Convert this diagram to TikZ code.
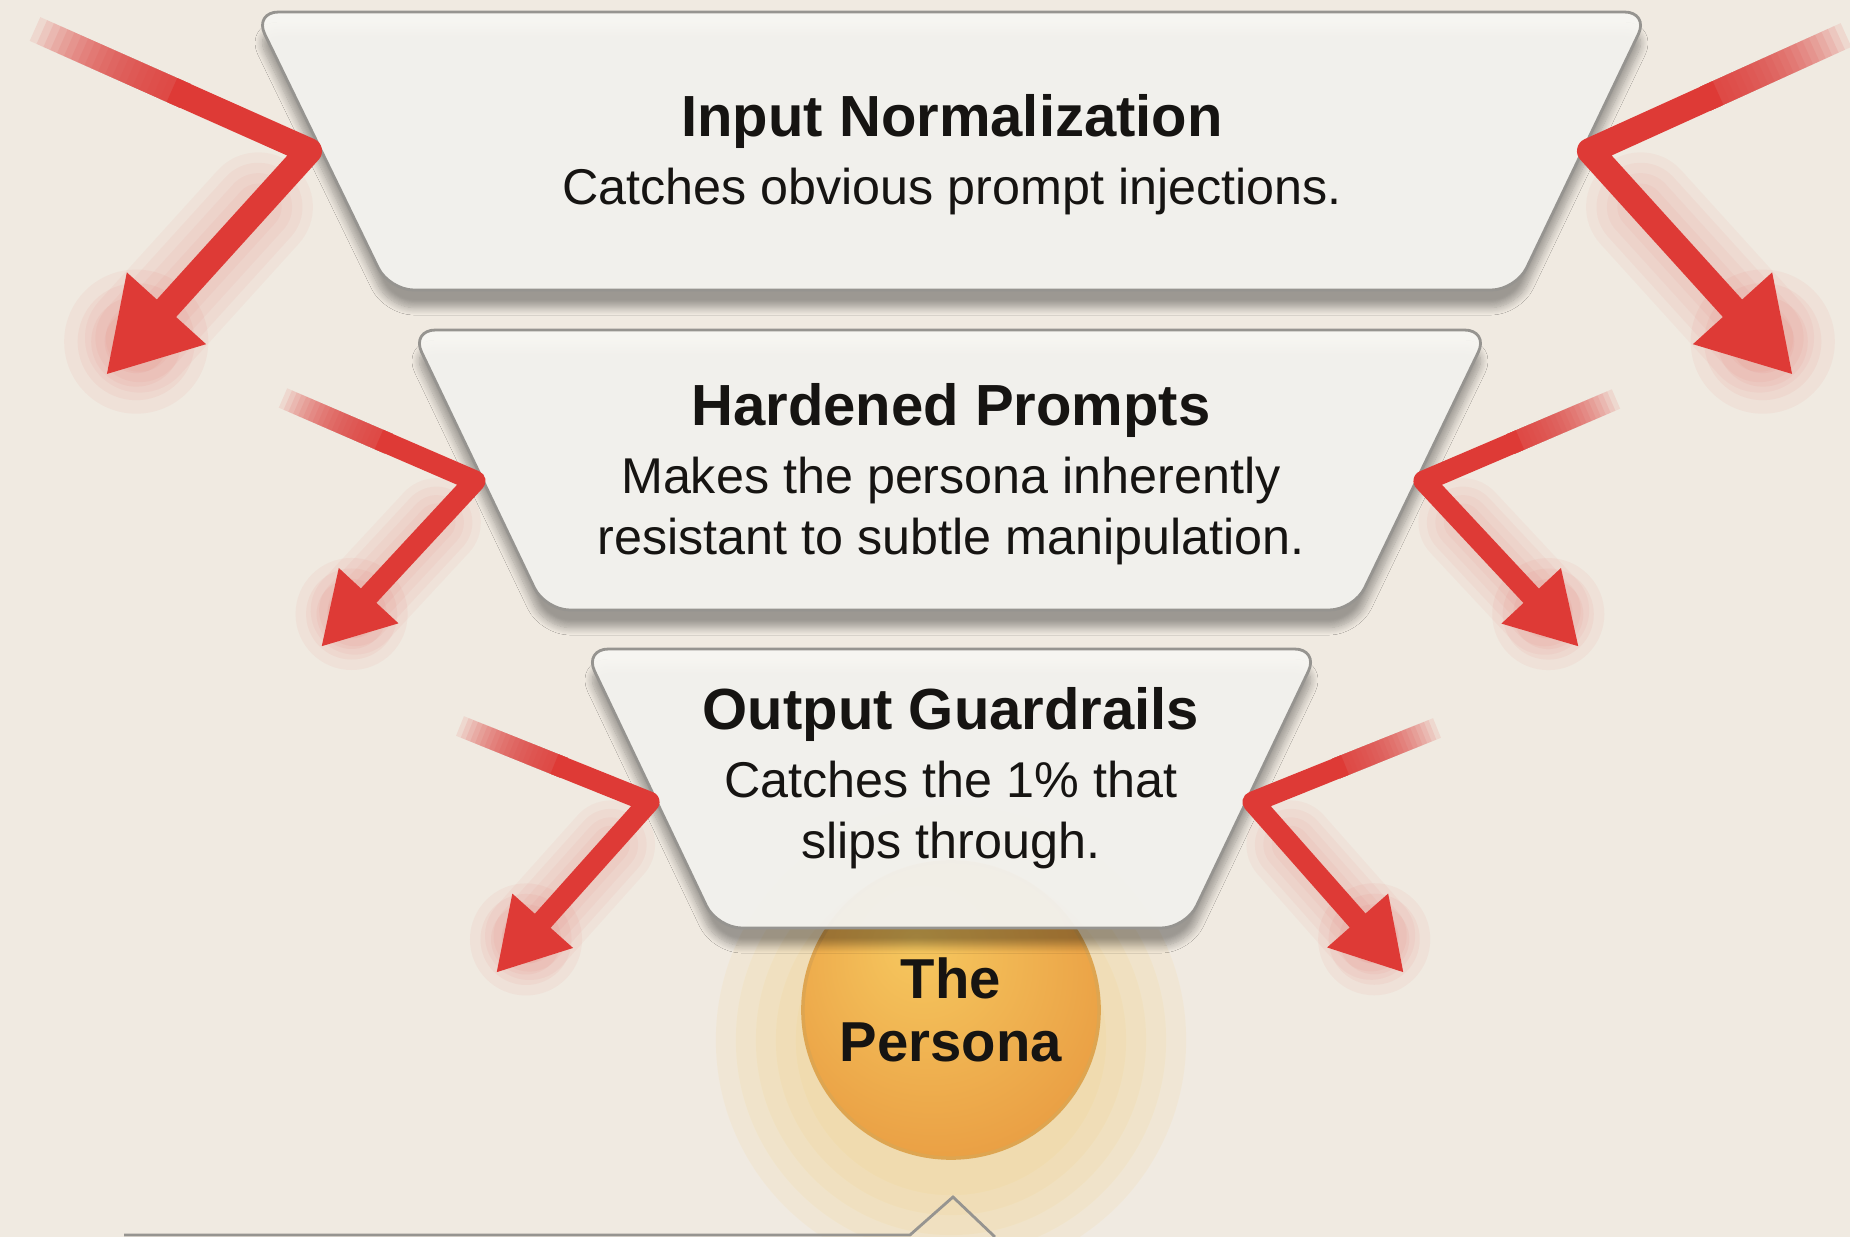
\documentclass[tikz,border=0pt]{standalone}
\usepackage{fontspec}
\setmainfont{Liberation Sans}
\usetikzlibrary{positioning,shadows.blur,arrows.meta,calc}
\definecolor{paper}{RGB}{240,234,225}
\definecolor{layerfill}{RGB}{247,246,242}
\definecolor{layerline}{RGB}{150,148,144}
\definecolor{threatred}{RGB}{222,58,54}
\definecolor{personalight}{RGB}{246,200,95}
\definecolor{personadeep}{RGB}{231,150,62}
\definecolor{personaedge}{RGB}{222,165,80}
\definecolor{inkblack}{RGB}{22,20,18}
\pgfdeclareradialshading{personaball}{\pgfpoint{-6bp}{12bp}}{color(0bp)=(personalight); color(30bp)=(personadeep!80!personalight); color(44bp)=(personadeep); color(50bp)=(personaedge)}
\tikzstyle{layer} = [rounded corners=7pt, draw=layerline, line width=0.8pt, fill=layerfill, fill opacity=0.94, blur shadow={shadow xshift=0pt, shadow yshift=-5pt, shadow blur steps=10, shadow opacity=35}]
\tikzstyle{layerlabel} = [align=center, text=inkblack, font=\fontsize{14.3}{17.4}\selectfont]
\tikzstyle{persona} = [circle, minimum size=2.96cm, shade, shading=personaball, draw=personaedge, line width=1pt, align=center, text=inkblack, font=\fontsize{16}{17.9}\selectfont\bfseries]
\tikzstyle{threat} = [draw=threatred, line join=round]
\tikzstyle{threatglow} = [draw=threatred, line join=round, line cap=round, opacity=0.045]
\newcommand{\layertitle}[1]{{\fontsize{16.5}{20}\selectfont\bfseries #1}}
\newcommand{\threatarrow}[6]{%
  \foreach \w in {1.8,2.6,3.4,4.2}
    \draw[threatglow, line width=\w*#4] ($(#2)!0.25!(#3)$) -- ($(#3)!0.5cm!(#2)$);
  \foreach \r in {0.35,0.5,0.65,0.8}
    \fill[threatred, opacity=0.05] ($(#3)!0.45cm!(#2)$) circle (\r*#5);
  \foreach \s in {0,0.025,...,0.5}
    \draw[threat, line width=#4, opacity=0.1] ($(#1)!\s!(#2)$) -- ($(#1)!0.55!(#2)$);
  \draw[threat, line width=#4, -{Triangle[length=#5, width=#6]}] ($(#1)!0.5!(#2)$) -- (#2) -- (#3);
}

\begin{document}
\begin{tikzpicture}[x=0.01cm, y=-0.01cm]
\useasboundingbox (0,0) rectangle (1850,1237);
\fill[paper] (0,0) rectangle (1850,1237);

\foreach \r in {1.55,1.75,1.95,2.15,2.35}
  \fill[personalight, opacity=0.09] (951,1040) circle (\r cm);
\node[persona] (persona) at (951,1010) {The\\Persona};
\draw[layerline, line width=0.8pt] (124,1235) -- (910,1235) -- (953,1197) -- (995,1237);

\draw[layer] (254,12) -- (1649,12) -- (1516,290) -- (389,290) -- cycle;
\draw[layer] (411,330) -- (1489,330) -- (1354,610) -- (545,610) -- cycle;
\draw[layer] (584,649) -- (1319,649) -- (1186,928) -- (717,928) -- cycle;

\node[layerlabel] (normtext) at (952,155) {\layertitle{Input Normalization}\\[1.9pt]Catches obvious prompt injections.};
\node[layerlabel] (hardtext) at (951,474) {\layertitle{Hardened Prompts}\\[1.9pt]Makes the persona inherently\\resistant to subtle manipulation.};
\node[layerlabel] (guardtext) at (951,778) {\layertitle{Output Guardrails}\\[1.9pt]Catches the 1\% that\\slips through.};

\coordinate (tailL1) at (35,29);
\coordinate (bendL1) at (309,151);
\coordinate (tipL1) at (106,375);
\coordinate (tailR1) at (1846,35);
\coordinate (bendR1) at (1590,151);
\coordinate (tipR1) at (1793,375);
\coordinate (tailL2) at (283,398);
\coordinate (bendL2) at (475,481);
\coordinate (tipL2) at (321,647);
\coordinate (tailR2) at (1616,399);
\coordinate (bendR2) at (1424,481);
\coordinate (tipR2) at (1579,647);
\coordinate (tailL3) at (460,726);
\coordinate (bendL3) at (649,802);
\coordinate (tipL3) at (496,973);
\coordinate (tailR3) at (1437,728);
\coordinate (bendR3) at (1253,802);
\coordinate (tipR3) at (1404,973);

\threatarrow{tailL1}{bendL1}{tipL1}{7.4pt}{9mm}{10mm}
\threatarrow{tailR1}{bendR1}{tipR1}{7.4pt}{9mm}{10mm}
\threatarrow{tailL2}{bendL2}{tipL2}{6pt}{7mm}{7.6mm}
\threatarrow{tailR2}{bendR2}{tipR2}{6pt}{7mm}{7.6mm}
\threatarrow{tailL3}{bendL3}{tipL3}{6pt}{7mm}{7.6mm}
\threatarrow{tailR3}{bendR3}{tipR3}{6pt}{7mm}{7.6mm}
\end{tikzpicture}
\end{document}
